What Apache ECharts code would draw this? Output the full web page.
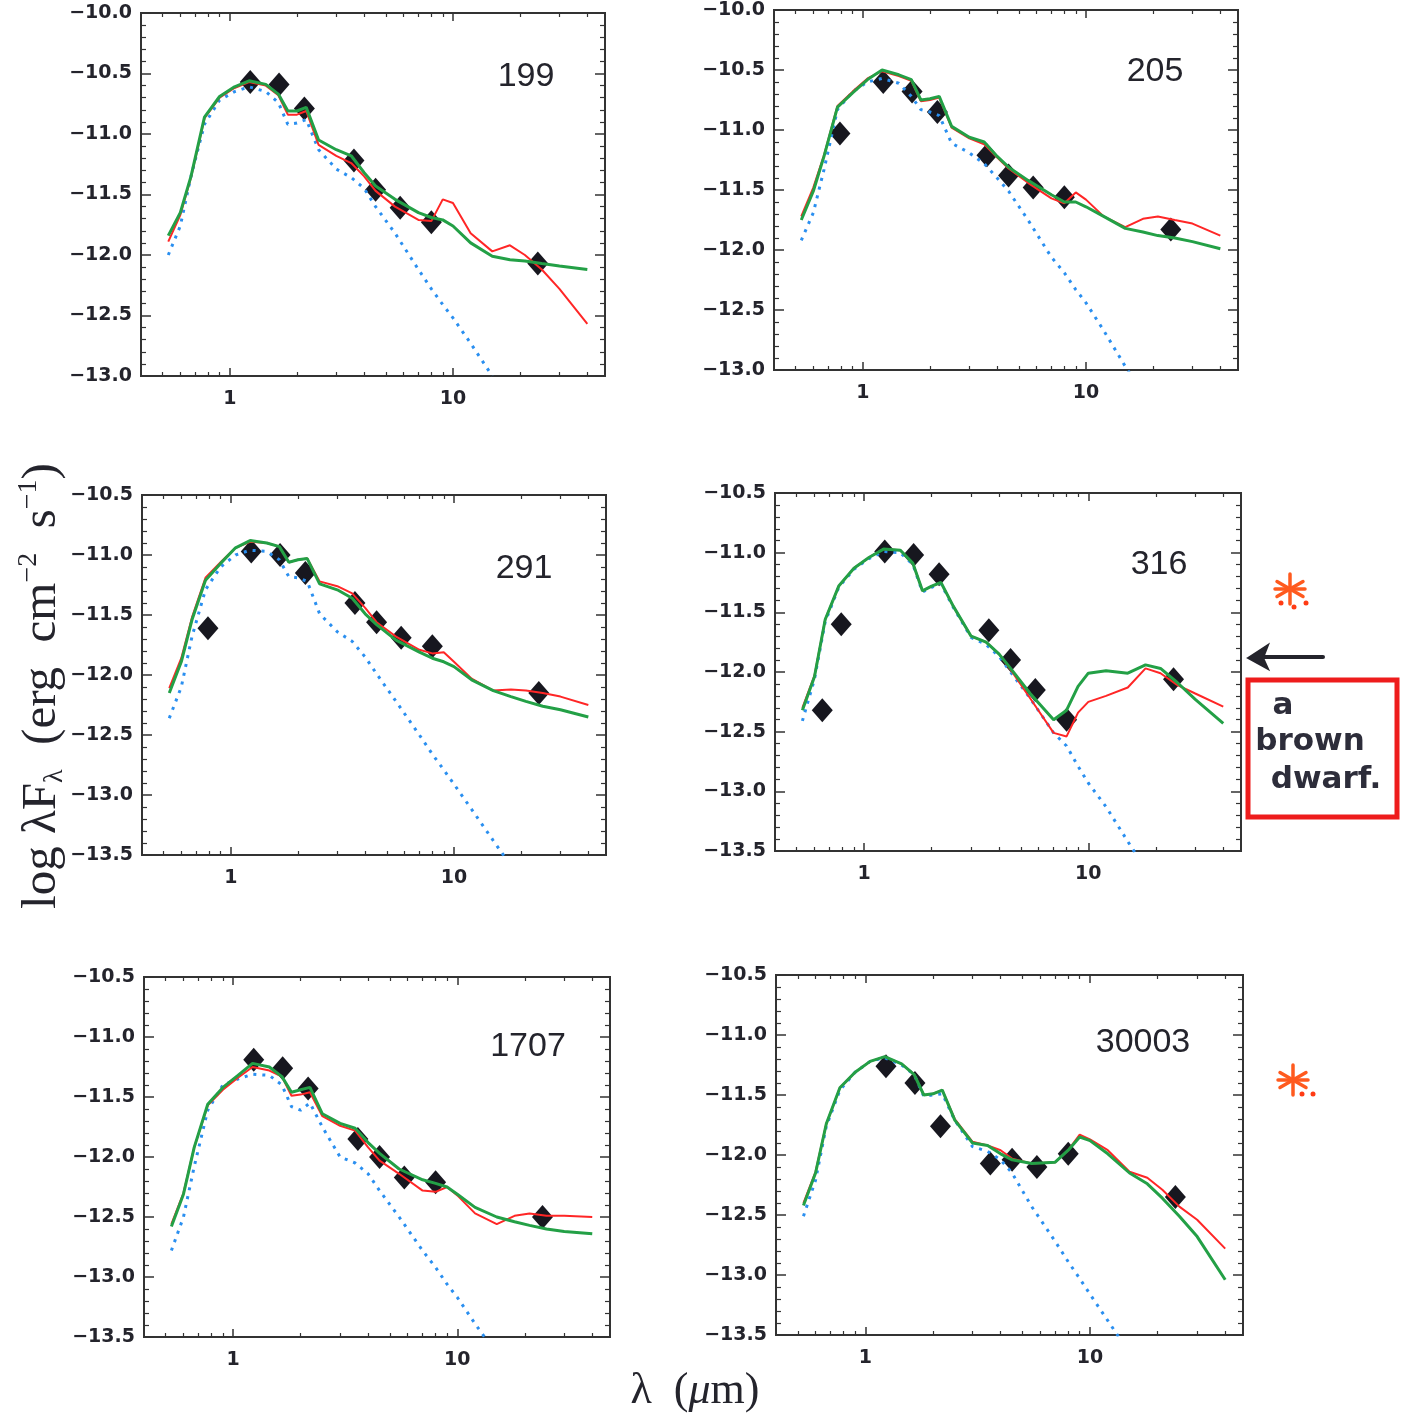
<!DOCTYPE html>
<html>
<head>
<meta charset="utf-8">
<title>SED fits</title>
<script src="https://cdn.jsdelivr.net/npm/echarts@6/dist/echarts.min.js"></script>
<style>
  html, body { margin: 0; padding: 0; background: #fff; }
  #main { width: 1406px; height: 1416px; }
</style>
</head>
<body>
<div id="main"></div>
<script>
// model wavelength grid (micron), shared by the fitted curves
var modelWave = [0.53, 0.6, 0.67, 0.77, 0.9, 1.05, 1.22, 1.45, 1.65, 1.82, 2.0, 2.2, 2.5, 3.0, 3.5,
    4.0, 4.5, 5.5, 7.0, 8.0, 9.0, 10, 12, 15, 18, 21, 25, 30, 40];

var panelNames = ['199', '205', '291', '316', '1707', '30003'];
var yRanges = [[-13, -10], [-13, -10], [-13.5, -10.5], [-13.5, -10.5], [-13.5, -10.5], [-13.5, -10.5]];
var majorX = [1, 10];
var minorX = [0.5, 0.6, 0.7, 0.8, 0.9, 2, 3, 4, 5, 6, 7, 8, 9, 20, 30, 40];

// observed photometry [lambda, log lambdaF]
var obs199 = [[1.235, -10.57], [1.662, -10.59], [2.159, -10.79], [3.6, -11.22], [4.5, -11.46], [5.8, -11.61], [8.0, -11.73], [24, -12.07]];
var obs205 = [[0.79, -11.03], [1.235, -10.60], [1.662, -10.68], [2.159, -10.85], [3.6, -11.21], [4.5, -11.38], [5.8, -11.48], [8.0, -11.56], [24, -11.83]];
var obs291 = [[0.79, -11.61], [1.235, -10.97], [1.662, -11.00], [2.159, -11.15], [3.6, -11.40], [4.5, -11.56], [5.8, -11.69], [8.0, -11.76], [24, -12.15]];
var obs316 = [[0.65, -12.32], [0.79, -11.60], [1.235, -10.99], [1.662, -11.02], [2.159, -11.18], [3.6, -11.65], [4.5, -11.90], [5.8, -12.15], [8.0, -12.40], [24, -12.06]];
var obs1707 = [[1.235, -11.19], [1.662, -11.26], [2.159, -11.43], [3.6, -11.85], [4.5, -12.00], [5.8, -12.17], [8.0, -12.21], [24, -12.50]];
var obs30003 = [[1.235, -11.26], [1.662, -11.40], [2.159, -11.76], [3.6, -12.07], [4.5, -12.04], [5.8, -12.10], [8.0, -11.99], [24, -12.35]];

// photosphere (blue dotted), values on modelWave until the curve leaves the plot
var photo199 = [-12.00, -11.76, -11.35, -10.92, -10.72, -10.65, -10.61, -10.65, -10.74, -10.92, -10.91, -10.88, -11.13, -11.29, -11.36, -11.45, -11.60, -11.82, -12.12, -12.28, -12.41, -12.52, -12.73, -13.00];
var photo205 = [-11.92, -11.69, -11.33, -10.83, -10.68, -10.60, -10.57, -10.61, -10.72, -10.83, -10.85, -10.88, -11.11, -11.19, -11.28, -11.40, -11.51, -11.75, -12.06, -12.19, -12.33, -12.44, -12.67, -12.97, -13.20];
var photo291 = [-12.36, -12.10, -11.68, -11.29, -11.10, -11.00, -10.96, -10.97, -11.04, -11.18, -11.19, -11.22, -11.49, -11.64, -11.72, -11.85, -11.99, -12.22, -12.50, -12.66, -12.79, -12.91, -13.12, -13.38, -13.59];
var photo316 = [-12.41, -12.06, -11.58, -11.29, -11.14, -11.05, -10.99, -11.00, -11.10, -11.33, -11.29, -11.26, -11.46, -11.71, -11.77, -11.87, -12.00, -12.22, -12.51, -12.62, -12.79, -12.93, -13.13, -13.42, -13.65];
var photo1707 = [-12.78, -12.50, -12.08, -11.61, -11.40, -11.35, -11.31, -11.32, -11.40, -11.58, -11.61, -11.55, -11.75, -12.00, -12.05, -12.14, -12.28, -12.50, -12.78, -12.92, -13.06, -13.17, -13.39, -13.64];
var photo30003 = [-12.51, -12.21, -11.76, -11.46, -11.31, -11.22, -11.19, -11.25, -11.33, -11.51, -11.50, -11.49, -11.71, -11.93, -11.97, -12.04, -12.15, -12.43, -12.72, -12.89, -13.03, -13.16, -13.38, -13.65];

// disk model fits (red and green)
var red199 = [-11.89, -11.67, -11.36, -10.87, -10.70, -10.62, -10.57, -10.60, -10.68, -10.84, -10.84, -10.81, -11.09, -11.18, -11.24, -11.35, -11.47, -11.60, -11.71, -11.72, -11.54, -11.57, -11.82, -11.97, -11.92, -12.00, -12.12, -12.28, -12.57];
var green199 = [-11.84, -11.65, -11.35, -10.86, -10.69, -10.61, -10.56, -10.59, -10.67, -10.81, -10.81, -10.78, -11.05, -11.13, -11.18, -11.32, -11.43, -11.54, -11.65, -11.69, -11.71, -11.76, -11.90, -12.01, -12.04, -12.05, -12.07, -12.09, -12.12];
var red205 = [-11.72, -11.48, -11.21, -10.80, -10.68, -10.57, -10.51, -10.55, -10.59, -10.76, -10.75, -10.73, -10.98, -11.07, -11.12, -11.23, -11.32, -11.44, -11.57, -11.61, -11.52, -11.58, -11.72, -11.81, -11.74, -11.72, -11.75, -11.78, -11.88];
var green205 = [-11.75, -11.51, -11.22, -10.81, -10.69, -10.58, -10.50, -10.54, -10.58, -10.75, -10.74, -10.72, -10.97, -11.06, -11.10, -11.22, -11.31, -11.42, -11.54, -11.60, -11.60, -11.64, -11.72, -11.82, -11.85, -11.88, -11.90, -11.93, -11.99];
var red291 = [-12.11, -11.86, -11.52, -11.19, -11.06, -10.94, -10.89, -10.90, -10.93, -11.06, -11.04, -11.03, -11.22, -11.26, -11.32, -11.44, -11.56, -11.68, -11.79, -11.82, -11.81, -11.89, -12.03, -12.13, -12.12, -12.13, -12.15, -12.18, -12.25];
var green291 = [-12.15, -11.89, -11.54, -11.21, -11.07, -10.94, -10.88, -10.90, -10.93, -11.06, -11.04, -11.03, -11.24, -11.29, -11.36, -11.49, -11.58, -11.71, -11.81, -11.86, -11.89, -11.93, -12.04, -12.13, -12.18, -12.22, -12.26, -12.29, -12.35];
var red316 = [-12.30, -12.03, -11.56, -11.28, -11.13, -11.04, -10.97, -10.98, -11.09, -11.32, -11.28, -11.25, -11.45, -11.70, -11.75, -11.85, -11.98, -12.22, -12.51, -12.54, -12.34, -12.25, -12.20, -12.13, -11.97, -12.01, -12.11, -12.18, -12.29];
var green316 = [-12.32, -12.04, -11.56, -11.28, -11.13, -11.04, -10.97, -10.98, -11.09, -11.32, -11.28, -11.25, -11.45, -11.70, -11.75, -11.85, -11.97, -12.18, -12.40, -12.32, -12.12, -12.01, -11.99, -12.01, -11.94, -11.97, -12.09, -12.23, -12.43];
var red1707 = [-12.56, -12.30, -11.92, -11.57, -11.44, -11.34, -11.25, -11.28, -11.33, -11.49, -11.48, -11.46, -11.66, -11.74, -11.78, -11.92, -12.03, -12.14, -12.28, -12.29, -12.25, -12.32, -12.47, -12.56, -12.49, -12.47, -12.49, -12.49, -12.50];
var green1707 = [-12.58, -12.31, -11.92, -11.56, -11.42, -11.32, -11.22, -11.25, -11.33, -11.46, -11.44, -11.42, -11.64, -11.72, -11.76, -11.88, -11.97, -12.10, -12.19, -12.22, -12.25, -12.31, -12.42, -12.50, -12.54, -12.57, -12.60, -12.62, -12.64];
var red30003 = [-12.40, -12.14, -11.74, -11.44, -11.31, -11.22, -11.18, -11.24, -11.33, -11.50, -11.49, -11.46, -11.70, -11.89, -11.92, -11.96, -12.03, -12.07, -12.06, -11.96, -11.83, -11.87, -11.96, -12.14, -12.19, -12.29, -12.43, -12.54, -12.78];
var green30003 = [-12.42, -12.15, -11.74, -11.44, -11.31, -11.22, -11.18, -11.24, -11.33, -11.50, -11.49, -11.46, -11.71, -11.90, -11.92, -11.99, -12.04, -12.07, -12.06, -11.96, -11.85, -11.88, -11.99, -12.15, -12.24, -12.36, -12.51, -12.68, -13.04];

var panelData = [
    {obs: obs199, photo: photo199, red: red199, green: green199},
    {obs: obs205, photo: photo205, red: red205, green: green205},
    {obs: obs291, photo: photo291, red: red291, green: green291},
    {obs: obs316, photo: photo316, red: red316, green: green316},
    {obs: obs1707, photo: photo1707, red: red1707, green: green1707},
    {obs: obs30003, photo: photo30003, red: red30003, green: green30003}
];

// page layout of the six boxes and their id labels
var boxes = [
    {left: 141, top: 13, width: 464, height: 363, labelX: 526, labelY: 77},
    {left: 774, top: 10, width: 464, height: 360, labelX: 1155, labelY: 72},
    {left: 142, top: 495, width: 464, height: 360, labelX: 524, labelY: 569},
    {left: 775, top: 493, width: 466, height: 358, labelX: 1159, labelY: 565},
    {left: 144, top: 977, width: 466, height: 360, labelX: 528, labelY: 1047},
    {left: 776, top: 975, width: 467, height: 360, labelX: 1143, labelY: 1043}
];

var INK = '#24242c';
var tickFont = {color: INK, fontFamily: 'DejaVu Sans', fontWeight: 'bold', fontSize: 19};

function withWave(vals) {
    return vals.map(function (v, i) { return [modelWave[i], v]; });
}

var grids = [], xAxes = [], yAxes = [], series = [], graphics = [];

boxes.forEach(function (b, g) {
    grids.push({
        left: b.left, top: b.top, width: b.width, height: b.height,
        show: true, borderColor: '#333', borderWidth: 2, backgroundColor: 'transparent'
    });

    ['bottom', 'top'].forEach(function (pos) {
        var base = {
            type: 'log', logBase: 10, min: 0.4, max: 48, gridIndex: g, position: pos,
            axisLine: {show: false}, splitLine: {show: false}
        };
        //主刻度 1, 10
        xAxes.push(Object.assign({}, base, {
            axisTick: {inside: true, length: 8, customValues: majorX, lineStyle: {color: '#333', width: 1.5}},
            axisLabel: pos === 'bottom' ? Object.assign({
                customValues: majorX, margin: 14,
                formatter: function (v) { return String(Math.round(v)); }
            }, tickFont) : {show: false}
        }));
        //次刻度 2..9
        xAxes.push(Object.assign({}, base, {
            axisTick: {inside: true, length: 4, customValues: minorX, lineStyle: {color: '#333', width: 1.2}},
            axisLabel: {show: false}
        }));
    });

    ['left', 'right'].forEach(function (pos) {
        yAxes.push({
            type: 'value', gridIndex: g, position: pos,
            min: yRanges[g][0], max: yRanges[g][1], interval: 0.5,
            axisLine: {show: false}, splitLine: {show: false},
            axisTick: {inside: true, length: 10, lineStyle: {color: '#333', width: 1.5}},
            minorTick: {show: true, splitNumber: 5, length: 5, lineStyle: {color: '#333', width: 1.2}},
            axisLabel: pos === 'left' ? Object.assign({
                margin: 9,
                formatter: function (v) { return (v < 0 ? '\u2212' : '') + Math.abs(v).toFixed(1); }
            }, tickFont) : {show: false}
        });
    });

    var xi = g * 4, yi = g * 2, d = panelData[g];
    series.push({
        type: 'scatter', xAxisIndex: xi, yAxisIndex: yi, data: d.obs,
        symbol: 'diamond', symbolSize: [21, 24], itemStyle: {color: '#17171f', opacity: 1}, z: 2
    });
    series.push({
        type: 'line', xAxisIndex: xi, yAxisIndex: yi, data: withWave(d.photo),
        showSymbol: false, clip: true, z: 3,
        lineStyle: {color: '#2a8ff0', width: 3, type: [3, 6]}
    });
    series.push({
        type: 'line', xAxisIndex: xi, yAxisIndex: yi, data: withWave(d.red),
        showSymbol: false, clip: true, z: 4,
        lineStyle: {color: '#ff2626', width: 2}
    });
    series.push({
        type: 'line', xAxisIndex: xi, yAxisIndex: yi, data: withWave(d.green),
        showSymbol: false, clip: true, z: 5,
        lineStyle: {color: '#23a046', width: 3}
    });

    graphics.push({
        type: 'text', x: b.labelX, y: b.labelY,
        style: {text: panelNames[g], font: '34px "Liberation Sans"', fill: INK, align: 'center', verticalAlign: 'middle'}
    });
});

// axis titles
graphics.push({
    type: 'text', x: 42, y: 686, rotation: Math.PI / 2,
    style: {
        text: '{m|log \u03bbF}{s|\u03bb}{m|  (erg  cm}{p|\u22122}{m|  s}{p|\u22121}{m|)}',
        align: 'center', verticalAlign: 'middle',
        rich: {
            m: {font: '49px "Liberation Serif"', fill: INK, lineHeight: 54},
            s: {font: '28px "Liberation Serif"', fill: INK, lineHeight: 54, verticalAlign: 'bottom'},
            p: {font: '28px "Liberation Serif"', fill: INK, lineHeight: 54, verticalAlign: 'top'}
        }
    }
});
graphics.push({
    type: 'text', x: 695, y: 1391,
    style: {
        text: '{m|\u03bb  (}{i|\u03bc}{m|m)}',
        align: 'center', verticalAlign: 'middle',
        rich: {
            m: {font: '44px "Liberation Serif"', fill: INK},
            i: {font: 'italic 44px "Liberation Serif"', fill: INK}
        }
    }
});

// handwritten notes
function asterisk(cx, cy, r) {
    var out = [];
    [90, 30, 150, 0].forEach(function (a) {
        var dx = r * Math.cos(a * Math.PI / 180), dy = r * Math.sin(a * Math.PI / 180);
        out.push({type: 'line', shape: {x1: cx - dx, y1: cy - dy, x2: cx + dx, y2: cy + dy},
            style: {stroke: '#ff5a1e', lineWidth: 3.5, lineCap: 'round'}});
    });
    return out;
}
function dot(x, y) {
    return {type: 'circle', shape: {cx: x, cy: y, r: 2.5}, style: {fill: '#ff3b14'}};
}
graphics = graphics.concat(asterisk(1290, 589, 15), [dot(1281, 603), dot(1294, 607), dot(1306, 603)]);
graphics = graphics.concat(asterisk(1293, 1080, 15), [dot(1302, 1094), dot(1313, 1094)]);
graphics.push({type: 'line', shape: {x1: 1323, y1: 657, x2: 1256, y2: 657},
    style: {stroke: INK, lineWidth: 4, lineCap: 'round'}});
graphics.push({type: 'polygon', shape: {points: [[1248, 658], [1268, 645], [1263, 658], [1268, 669]]},
    style: {fill: INK, stroke: INK, lineWidth: 2}});
graphics.push({type: 'rect', shape: {x: 1248, y: 680, width: 149, height: 137},
    style: {fill: 'none', stroke: '#ee1c1c', lineWidth: 5}});
[['a', 1283, 706], ['brown', 1310, 742], ['dwarf.', 1326, 780]].forEach(function (t) {
    graphics.push({type: 'text', x: t[1], y: t[2],
        style: {text: t[0], font: 'bold 31px "DejaVu Sans"', fill: '#2d2d3a', align: 'center', verticalAlign: 'middle'}});
});

var chart = echarts.init(document.getElementById('main'));
chart.setOption({
    backgroundColor: '#ffffff',
    animation: false,
    grid: grids,
    xAxis: xAxes,
    yAxis: yAxes,
    series: series,
    graphic: graphics
});
</script>
</body>
</html>
